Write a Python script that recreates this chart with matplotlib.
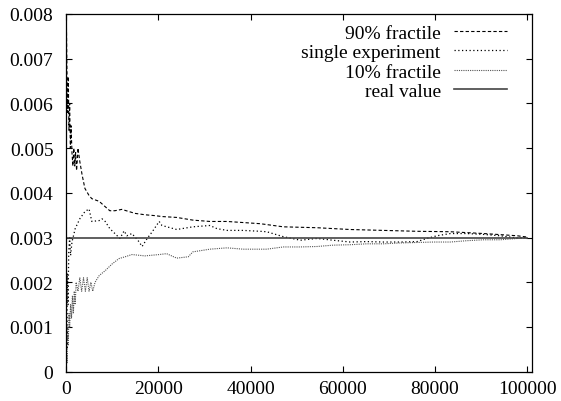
import matplotlib
matplotlib.use("Agg")
import matplotlib.pyplot as plt
from matplotlib.ticker import FuncFormatter

plt.rcParams['font.family'] = ['Liberation Serif', 'DejaVu Serif']
plt.rcParams['font.size'] = 14

# iterations in thousands
x_hi = [0, 0.07, 0.2, 0.35, 0.5, 0.65, 0.8, 0.95, 1.1, 1.3, 1.5, 1.7, 1.9, 2.1, 2.3, 2.5,
        2.6, 3.0, 3.5, 4.1, 5.0, 5.6, 7.2, 8.5, 9.5, 10.6, 12.1, 13.7, 15.0, 17.1, 19.3,
        20.8, 24.0, 27.5, 31.2, 34.9, 42.1, 47.1, 54.4, 61.6, 68.8, 76.1, 83.3, 90.5,
        97.8, 100.0]
frac_90 = [0.0085, 0.0080, 0.0068, 0.0058, 0.0066, 0.0054, 0.0060, 0.0050, 0.0055, 0.0049,
           0.0046, 0.0050, 0.0046, 0.0049, 0.0045, 0.0048, 0.0050, 0.0047, 0.0044, 0.0041,
           0.00394, 0.00387, 0.00381, 0.00369, 0.00360, 0.00360, 0.00363, 0.00358, 0.00354,
           0.00351, 0.00349, 0.00347, 0.00345, 0.00339, 0.00336, 0.00336, 0.00331, 0.00324,
           0.00322, 0.00318, 0.00316, 0.00314, 0.00313, 0.00309, 0.00304, 0.00301]

x_single = [0, 0.1, 0.2, 0.3, 0.45, 0.6, 0.8, 1.0, 1.3, 2.0, 3.0, 4.1, 5.0, 5.6, 7.2, 7.8,
            8.5, 9.5, 11.1, 11.7, 12.6, 13.2, 14.3, 15.8, 16.5, 17.6, 18.7, 20.2, 20.8,
            24.0, 27.5, 31.2, 32.7, 34.9, 38.4, 42.1, 43.5, 47.1, 50.8, 54.4, 57.9, 61.6,
            65.2, 68.8, 72.5, 76.1, 78.2, 80.4, 83.3, 86.9, 90.5, 94.1, 97.8, 100.0]
single = [0.0000, 0.0012, 0.0005, 0.0022, 0.0015, 0.0027, 0.0030, 0.0026, 0.0029, 0.00320,
          0.00342, 0.00358, 0.00364, 0.00336, 0.00338, 0.00342, 0.00336, 0.00320, 0.00304,
          0.00298, 0.00315, 0.00304, 0.00309, 0.00291, 0.00280, 0.00298, 0.00313, 0.00336,
          0.00327, 0.00318, 0.00324, 0.00327, 0.00320, 0.00316, 0.00316, 0.00314, 0.00313,
          0.00302, 0.00294, 0.00298, 0.00294, 0.00290, 0.00291, 0.00290, 0.00290, 0.00291,
          0.00298, 0.00304, 0.00309, 0.00309, 0.00307, 0.00304, 0.00299, 0.00300]

x_lo = [0, 0.15, 0.25, 0.35, 0.5, 0.65, 0.8, 1.0, 1.2, 1.4, 1.6, 1.8, 2.0, 2.2, 2.6, 3.0,
        3.4, 3.8, 4.2, 4.6, 5.0, 5.4, 5.8, 6.3, 7.2, 8.5, 10.0, 11.5, 12.8, 14.3, 17.1,
        20.2, 21.8, 24.0, 26.5, 27.5, 31.2, 34.9, 38.4, 43.5, 47.1, 50.8, 54.4, 57.9,
        61.6, 65.2, 68.8, 72.5, 76.1, 79.6, 83.3, 86.9, 90.5, 94.1, 97.8, 100.0]
frac_10 = [0.0000, 0.0004, 0.0002, 0.0010, 0.0006, 0.0013, 0.0010, 0.0015, 0.0012, 0.0017,
           0.0013, 0.0018, 0.0015, 0.0020, 0.0018, 0.0021, 0.0018, 0.0021, 0.0018, 0.0021,
           0.0018, 0.0020, 0.0018, 0.0020, 0.00215, 0.00226, 0.00241, 0.00253, 0.00257,
           0.00262, 0.00259, 0.00262, 0.00264, 0.00254, 0.00257, 0.00268, 0.00274, 0.00277,
           0.00274, 0.00274, 0.00279, 0.00279, 0.00280, 0.00283, 0.00284, 0.00286, 0.00286,
           0.00288, 0.00289, 0.00290, 0.00290, 0.00293, 0.00295, 0.00295, 0.00298, 0.00300]

real_value = 0.003
x_range = [0, 100000]

x_ticks = [0, 20000, 40000, 60000, 80000, 100000]
y_ticks = [0, 0.001, 0.002, 0.003, 0.004, 0.005, 0.006, 0.007, 0.008]

fig = plt.figure(figsize=(5.61, 4.02), dpi=100)
ax = fig.add_axes([0.1176, 0.0729, 0.8307, 0.8898])

ax.plot([v * 1000 for v in x_hi], frac_90, color='black', lw=0.8,
        linestyle=(0, (3, 2)), label='90% fractile')
ax.plot([v * 1000 for v in x_single], single, color='black', lw=0.9,
        linestyle=(0, (1, 2)), label='single experiment')
ax.plot([v * 1000 for v in x_lo], frac_10, color='#555555', lw=0.8,
        linestyle=(0, (1, 1)), label='10% fractile')
ax.plot(x_range, [real_value, real_value], color='#444444', lw=1.2, label='real value')

ax.set_xlim(0, 101000)
ax.set_ylim(0, 0.008)
ax.set_xticks(x_ticks)
ax.set_yticks(y_ticks)
ax.yaxis.set_major_formatter(FuncFormatter(lambda v, _: '0' if v == 0 else f'{v:.3f}'))
ax.xaxis.set_major_formatter(FuncFormatter(lambda v, _: f'{int(v)}'))
ax.tick_params(direction='in', length=4, width=0.8, top=True, right=True)
ax.tick_params(axis='y', pad=9)
ax.tick_params(axis='x', pad=6)
for s in ax.spines.values():
    s.set_linewidth(0.9)

ax.legend(loc='upper right', bbox_to_anchor=(0.946, 0.972), frameon=False,
          markerfirst=False, handlelength=2.7, handletextpad=0.7,
          labelspacing=0.1, borderpad=0, borderaxespad=0)

plt.savefig("out.png", dpi=100)
plt.close()
